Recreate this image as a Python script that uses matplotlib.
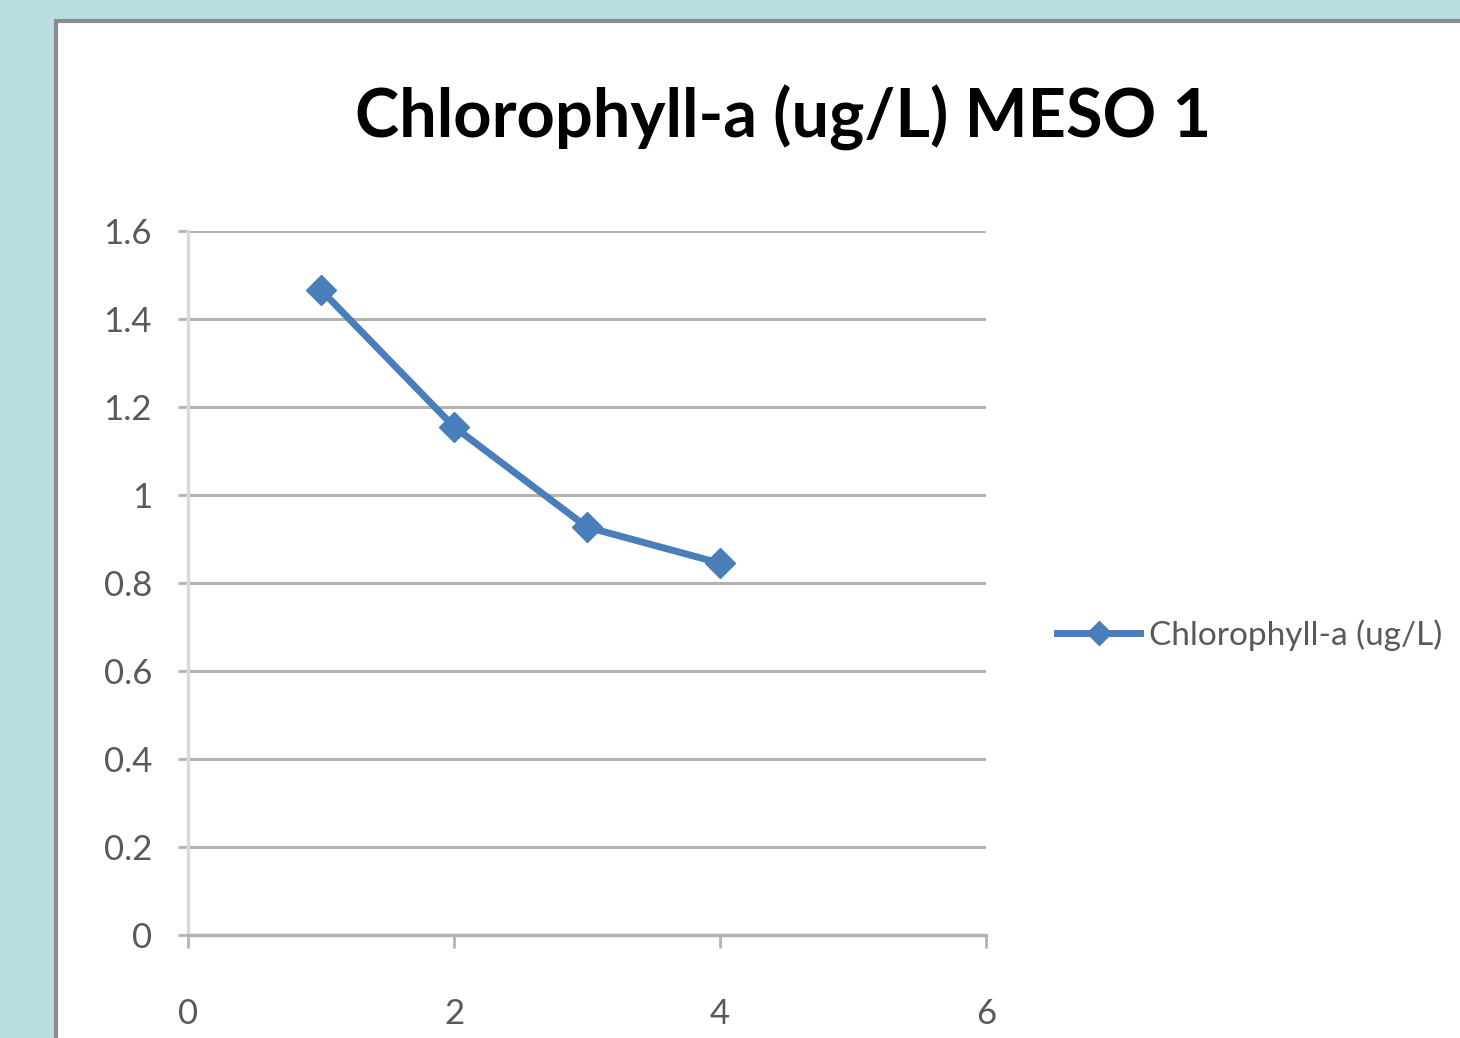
import matplotlib
matplotlib.use("Agg")
import matplotlib.pyplot as plt
from matplotlib.patches import Rectangle

# datos
dia = [1, 2, 3, 4]
clorofila = [1.466, 1.155, 0.927, 0.845]
x_ticks = [0, 2, 4, 6]
y_ticks = [0, 0.2, 0.4, 0.6, 0.8, 1, 1.2, 1.4, 1.6]
y_labels = ['0', '0.2', '0.4', '0.6', '0.8', '1', '1.2', '1.4', '1.6']

plt.rcParams['font.family'] = ['Lato', 'DejaVu Sans']

fig = plt.figure(figsize=(14.6, 10.38), dpi=100)
fig.patch.set_facecolor('#bbdfe1')

# panel blanco del grafico
panel = Rectangle((56/1460, -0.05), 1.2, 1.05 - 21/1038, transform=fig.transFigure,
                  facecolor='white', edgecolor='#8c8c8c', linewidth=3, zorder=-5)
fig.patches.append(panel)

ax = fig.add_axes([188/1460, 103/1038, 798/1460, 704/1038])
ax.set_zorder(2)
ax.set_facecolor('none')

ax.plot(dia, clorofila, color='#4a7ebb', linewidth=5, marker='D', markersize=15,
        label='Chlorophyll-a (ug/L)', zorder=3)

ax.set_xlim(0, 6)
ax.set_ylim(0, 1.6)
ax.set_xticks(x_ticks)
ax.set_yticks(y_ticks)
ax.set_yticklabels(y_labels)
ax.grid(axis='y', color='#b3b3b3', linewidth=2.2)
ax.set_axisbelow(True)

for s in ['top', 'right']:
    ax.spines[s].set_visible(False)
ax.spines['left'].set_color('#d9d9d9')
ax.spines['left'].set_linewidth(2.5)
ax.spines['bottom'].set_color('#b3b3b3')
ax.spines['bottom'].set_linewidth(2.5)

ax.tick_params(axis='y', length=7, width=2, color='#b3b3b3', pad=19,
               labelsize=25, labelcolor='#595959')
ax.tick_params(axis='x', length=9, width=2, color='#b3b3b3', pad=36,
               labelsize=25, labelcolor='#595959')

fig.text(783/1460, 1 - 118/1038, 'Chlorophyll-a (ug/L) MESO 1', ha='center', va='center',
         fontsize=48, fontweight='bold', color='black')

leg = ax.legend(loc='center left', bbox_to_anchor=(1027/1460, 1 - 635/1038),
                bbox_transform=fig.transFigure, frameon=False, fontsize=24,
                handlelength=2.5, handletextpad=0.27, markerscale=0.8)
for t in leg.get_texts():
    t.set_color('#595959')

fig.savefig('out.png', dpi=100)
